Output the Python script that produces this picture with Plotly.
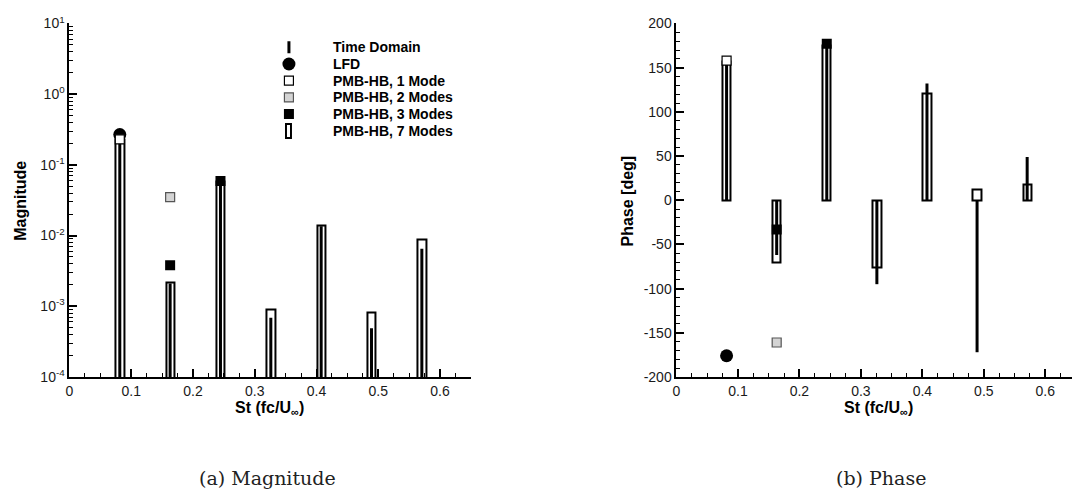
import plotly.graph_objects as go

# ---------------------------------------------------------------------------
# Data: harmonics of the shedding frequency
# ---------------------------------------------------------------------------
st = [0.0815, 0.163, 0.2445, 0.326, 0.4075, 0.489, 0.5705]

# Magnitude
mag_time_domain = [0.20, 0.0021, 0.055, 0.00069, 0.0135, 0.00049, 0.0065]
mag_hb7 = [0.225, 0.00215, 0.058, 0.0009, 0.0138, 0.00083, 0.0089]
st_lfd = [0.0815]
mag_lfd = [0.268]
st_hb1 = [0.0815]
mag_hb1 = [0.23]
st_hb2 = [0.163]
mag_hb2 = [0.035]
st_hb3 = [0.163, 0.2445]
mag_hb3 = [0.0038, 0.059]

# Phase [deg]
ph_time_domain = [153, -62, 174, -95, 132, -172, 49]
ph_hb7 = [157, -70, 175, -76, 121, 12, 18]
ph_lfd = [-176]
ph_hb1 = [158]
ph_hb2 = [-161]
ph_hb3 = [-33, 177]

legend_labels = ["Time Domain", "LFD", "PMB-HB, 1 Mode", "PMB-HB, 2 Modes",
                 "PMB-HB, 3 Modes", "PMB-HB, 7 Modes"]

mag_tickvals = [1e-4, 1e-3, 1e-2, 1e-1, 1e0, 1e1]
mag_ticktext = ["10<sup>-4</sup>", "10<sup>-3</sup>", "10<sup>-2</sup>",
                "10<sup>-1</sup>", "10<sup>0</sup>", "10<sup>1</sup>"]

ph_tickvals = [-200, -150, -100, -50, 0, 50, 100, 150, 200]
ph_ticktext = ["-200", "-150", "-100", "-50", "0", "50", "100", "150", "200"]

MAG_FLOOR = 1e-4
W, H = 1072, 499
SANS = "Liberation Sans, Arial, sans-serif"
BAR_W = 0.0135


def stems(xs, ys, base):
    """Vertical segments from base to each value, separated by gaps."""
    px, py = [], []
    for x, y in zip(xs, ys):
        px += [x, x, None]
        py += [base, y, None]
    return px, py


def px_x(p):
    return p / W


def px_y(p):
    return 1 - p / H


fig = go.Figure()

panels = [
    ("x", "y", mag_time_domain, mag_hb7, mag_lfd, mag_hb1, mag_hb2, mag_hb3, MAG_FLOOR),
    ("x2", "y2", ph_time_domain, ph_hb7, ph_lfd, ph_hb1, ph_hb2, ph_hb3, 0),
]

for xa, ya, td, hb7, lfd, hb1, hb2, hb3, base in panels:
    # 7-mode harmonic balance: open bars
    fig.add_trace(go.Bar(
        x=st, y=hb7, width=BAR_W, xaxis=xa, yaxis=ya,
        marker=dict(color="white", line=dict(color="black", width=2)),
        showlegend=False, hoverinfo="skip"))
    # time-domain reference: thick stems
    sx, sy = stems(st, td, base)
    fig.add_trace(go.Scatter(
        x=sx, y=sy, mode="lines", xaxis=xa, yaxis=ya,
        line=dict(color="black", width=3), showlegend=False, hoverinfo="skip"))
    # LFD
    fig.add_trace(go.Scatter(
        x=st_lfd, y=lfd, mode="markers", xaxis=xa, yaxis=ya,
        marker=dict(symbol="circle", size=13, color="black"),
        showlegend=False))
    # PMB-HB 1 mode
    fig.add_trace(go.Scatter(
        x=st_hb1, y=hb1, mode="markers", xaxis=xa, yaxis=ya,
        marker=dict(symbol="square", size=9, color="white",
                    line=dict(color="black", width=1.2)),
        showlegend=False))
    # PMB-HB 2 modes
    fig.add_trace(go.Scatter(
        x=st_hb2, y=hb2, mode="markers", xaxis=xa, yaxis=ya,
        marker=dict(symbol="square", size=9, color="#d4d4d4",
                    line=dict(color="#555555", width=1.2)),
        showlegend=False))
    # PMB-HB 3 modes
    fig.add_trace(go.Scatter(
        x=st_hb3, y=hb3, mode="markers", xaxis=xa, yaxis=ya,
        marker=dict(symbol="square", size=10, color="black"),
        showlegend=False))

# ---------------------------------------------------------------------------
# Legend drawn inside the magnitude panel
# ---------------------------------------------------------------------------
rows = list(range(len(legend_labels)))
fig.add_trace(go.Scatter(x=[0, 0], y=[rows[0] - 0.36, rows[0] + 0.36], mode="lines",
                         xaxis="x3", yaxis="y3", line=dict(color="black", width=3),
                         showlegend=False, hoverinfo="skip"))
fig.add_trace(go.Scatter(x=[0], y=[rows[1]], mode="markers", xaxis="x3", yaxis="y3",
                         marker=dict(symbol="circle", size=13, color="black"),
                         showlegend=False, hoverinfo="skip"))
fig.add_trace(go.Scatter(x=[0], y=[rows[2]], mode="markers", xaxis="x3", yaxis="y3",
                         marker=dict(symbol="square", size=9, color="white",
                                     line=dict(color="black", width=1.2)),
                         showlegend=False, hoverinfo="skip"))
fig.add_trace(go.Scatter(x=[0], y=[rows[3]], mode="markers", xaxis="x3", yaxis="y3",
                         marker=dict(symbol="square", size=9, color="#d4d4d4",
                                     line=dict(color="#555555", width=1.2)),
                         showlegend=False, hoverinfo="skip"))
fig.add_trace(go.Scatter(x=[0], y=[rows[4]], mode="markers", xaxis="x3", yaxis="y3",
                         marker=dict(symbol="square", size=10, color="black"),
                         showlegend=False, hoverinfo="skip"))
fig.add_trace(go.Bar(x=[0], y=[-0.84], base=[rows[5] + 0.42], width=0.5,
                     xaxis="x3", yaxis="y3",
                     marker=dict(color="white", line=dict(color="black", width=2)),
                     showlegend=False, hoverinfo="skip"))

annotations = []
for r, lab in zip(rows, legend_labels):
    annotations.append(dict(
        text=lab, x=px_x(328), xref="paper", y=r, yref="y3",
        xanchor="left", yanchor="middle", showarrow=False,
        font=dict(family=SANS, size=14, color="black", weight="bold")))

# ---------------------------------------------------------------------------
# Axis titles and panel captions
# ---------------------------------------------------------------------------
title_font = dict(family=SANS, size=16, color="black", weight="bold")
annotations += [
    dict(text="Magnitude", x=px_x(17), y=px_y(198), textangle=-90),
    dict(text="Phase [deg]", x=px_x(626), y=px_y(198), textangle=-90),
    dict(text="St (fc/U<sub>∞</sub>)", x=px_x(266), y=px_y(413)),
    dict(text="St (fc/U<sub>∞</sub>)", x=px_x(878), y=px_y(413)),
]
for a in annotations[-4:]:
    a.update(xref="paper", yref="paper", showarrow=False,
             xanchor="center", yanchor="middle", font=title_font)

caption_font = dict(family="DejaVu Serif, serif", size=19, color="#222222")
annotations += [
    dict(text="(a) Magnitude", x=px_x(264), y=px_y(485), xref="paper", yref="paper",
         showarrow=False, xanchor="center", yanchor="middle", font=caption_font),
    dict(text="(b) Phase", x=px_x(880), y=px_y(485), xref="paper", yref="paper",
         showarrow=False, xanchor="center", yanchor="middle", font=caption_font),
]

# ---------------------------------------------------------------------------
# Axes
# ---------------------------------------------------------------------------
tick_font = dict(family=SANS, size=14, color="#1a1a1a")
common = dict(
    showline=True, linecolor="black", linewidth=2, mirror=False,
    ticks="inside", ticklen=8, tickwidth=1.6, tickcolor="black",
    showgrid=False, zeroline=False, tickfont=tick_font, fixedrange=True,
)

plot_top, plot_bot = 14, 380.7
ydom = [px_y(plot_bot), px_y(plot_top)]

minor_log = [k * 10.0 ** e for e in range(-4, 1) for k in range(2, 10)]

fig.update_layout(
    width=W, height=H,
    margin=dict(l=0, r=0, t=0, b=0),
    paper_bgcolor="white", plot_bgcolor="rgba(0,0,0,0)",
    bargap=0, showlegend=False,
    xaxis=dict(domain=[px_x(65.7), px_x(468.7)], range=[0, 0.65],
               tick0=0, dtick=0.1, anchor="y",
               minor=dict(ticks="inside", ticklen=4, tickwidth=1.2,
                          tickcolor="black", dtick=0.025, showgrid=False),
               **common),
    yaxis=dict(domain=ydom, type="log", range=[-4, 1], anchor="x",
               tickmode="array", tickvals=mag_tickvals, ticktext=mag_ticktext,
               minor=dict(ticks="inside", ticklen=4, tickwidth=1.2,
                          tickcolor="black", tickmode="array",
                          tickvals=minor_log, showgrid=False),
               **common),
    xaxis2=dict(domain=[px_x(675), 1.0], range=[0, (W - 675) / 617],
                tick0=0, dtick=0.1, anchor="y2",
                minor=dict(ticks="inside", ticklen=4, tickwidth=1.2,
                           tickcolor="black", dtick=0.025, showgrid=False),
                **common),
    yaxis2=dict(domain=ydom, range=[-200, 200], anchor="x2",
                tickmode="array", tickvals=ph_tickvals, ticktext=ph_ticktext,
                minor=dict(ticks="inside", ticklen=4, tickwidth=1.2,
                           tickcolor="black", tickmode="linear", tick0=0,
                           dtick=10, showgrid=False),
                **common),
    xaxis3=dict(domain=[px_x(276), px_x(296)], range=[-1, 1], visible=False,
                anchor="y3", fixedrange=True),
    yaxis3=dict(domain=[px_y(134), px_y(30)], range=[5.5, -0.5], visible=False,
                anchor="x3", fixedrange=True),
    annotations=annotations,
)

fig.write_html("out.html")
